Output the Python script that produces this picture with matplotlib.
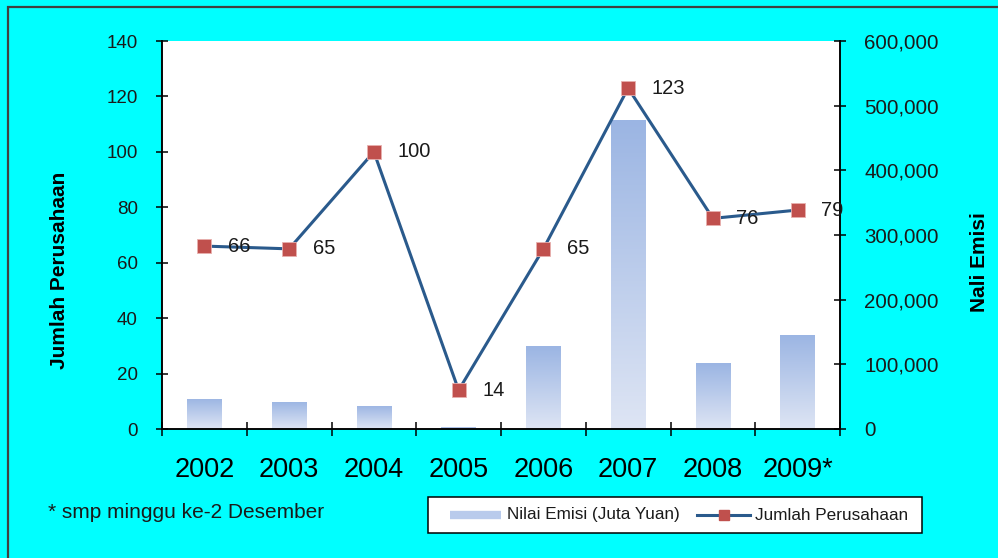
import matplotlib
matplotlib.use("Agg")
import matplotlib.pyplot as plt
import numpy as np
from matplotlib.ticker import FuncFormatter, FixedLocator
from matplotlib.lines import Line2D
from matplotlib.colors import LinearSegmentedColormap
from matplotlib.patches import Rectangle

plt.rcParams['font.family'] = ['Liberation Sans', 'DejaVu Sans']

# Data
years = ["2002", "2003", "2004", "2005", "2006", "2007", "2008", "2009*"]
nilai_emisi = [46400, 42200, 36000, 2600, 127800, 477600, 102000, 145700]
jumlah_perusahaan = [66, 65, 100, 14, 65, 123, 76, 79]

BG = "#00FFFF"
LINE_C = "#2A5A8C"
MARK_C = "#C0504D"
BAR_TOP = "#9BB5E3"
BAR_BOT = "#DEE5F4"
TXT = "#1a1a1a"

W, H = 998, 558
fig = plt.figure(figsize=(W / 100, H / 100), dpi=100, facecolor=BG)


def fx(px):
    return px / W


def fy(py):
    return 1 - py / H


# thin frame around the chart area
fig.patches.append(Rectangle((fx(8), -0.1), 1.2, fy(7) + 0.1,
                             transform=fig.transFigure, fill=False,
                             edgecolor="#404040", linewidth=1.6, zorder=0))

left, right, top, bottom = 162, 840, 41, 429
ax2 = fig.add_axes([fx(left), fy(bottom), (right - left) / W, (bottom - top) / H])
ax = ax2.twinx()
ax.yaxis.tick_left()
ax.yaxis.set_label_position("left")
ax2.yaxis.tick_right()
ax2.yaxis.set_label_position("right")

ax2.set_facecolor("white")
ax.set_zorder(ax2.get_zorder() + 1)
ax.patch.set_visible(False)

x = np.arange(len(years))

# Bars with vertical gradient fill
bars = ax2.bar(x, nilai_emisi, width=0.41, facecolor="none", edgecolor="none", zorder=2)
cmap = LinearSegmentedColormap.from_list("grad", [BAR_BOT, BAR_TOP])
grad = np.linspace(0, 1, 256).reshape(-1, 1)
for b in bars:
    x0, w, h = b.get_x(), b.get_width(), b.get_height()
    im = ax2.imshow(grad, cmap=cmap, origin="lower", aspect="auto",
                    extent=[x0, x0 + w, 0, h], zorder=2, interpolation="bilinear")
    im.set_clip_path(b)

# Line with square markers
ax.plot(x, jumlah_perusahaan, color=LINE_C, linewidth=2.2, marker="s",
        markersize=10, markerfacecolor=MARK_C, markeredgecolor="#E8B0AE",
        markeredgewidth=0.6, zorder=3)
for xi, v in zip(x, jumlah_perusahaan):
    ax.annotate(f"{v}", (xi, v), xytext=(17, 0), textcoords="offset points",
                ha="left", va="center", fontsize=14.5, color=TXT, zorder=4)

ax.set_xlim(-0.5, len(years) - 0.5)
ax2.set_xlim(-0.5, len(years) - 0.5)
ax.set_ylim(0, 140)
ax2.set_ylim(0, 600000)

ax.set_yticks(np.arange(0, 141, 20))
ax2.set_yticks(np.arange(0, 600001, 100000))
ax2.yaxis.set_major_formatter(FuncFormatter(lambda v, p: f"{int(v):,}"))

for a in (ax, ax2):
    a.spines["top"].set_visible(False)
    for s in ("left", "right", "bottom"):
        a.spines[s].set_linewidth(1.1)
        a.spines[s].set_color("black")

ax.tick_params(axis="y", direction="inout", length=9, width=1.1, pad=13,
               labelsize=13.5, labelcolor=TXT)
ax2.tick_params(axis="y", direction="inout", length=9, width=1.1, pad=13,
                labelsize=14.8, labelcolor=TXT)

# category labels at centres, tick marks at category boundaries
ax2.set_xticks(x)
ax2.set_xticklabels(years)
ax2.xaxis.set_minor_locator(FixedLocator(np.arange(-0.5, len(years), 1.0)))
ax2.tick_params(axis="x", which="major", length=0, pad=20, labelsize=19.5)
ax2.tick_params(axis="x", which="minor", direction="inout", length=10, width=1.1)
ax.tick_params(axis="x", which="both", length=0, labelbottom=False)

ax.set_ylabel("Jumlah Perusahaan", fontsize=15, fontweight="bold")
ax.yaxis.set_label_coords(-0.137, 0.41)
ax2.set_ylabel("Nali Emisi", fontsize=15, fontweight="bold", rotation=90)
ax2.yaxis.set_label_coords(1.192, 0.43)

fig.text(fx(48), fy(513), "* smp minggu ke-2 Desember", fontsize=15,
         ha="left", va="center", color=TXT)

# Legend box
fig.patches.append(Rectangle((fx(428), fy(533)), (922 - 428) / W, 36 / H,
                             transform=fig.transFigure, facecolor="white",
                             edgecolor="black", linewidth=1.1, zorder=5))
ly = fy(515)
fig.add_artist(Line2D([fx(450), fx(501)], [ly, ly], transform=fig.transFigure,
                      color="#B9CBEC", linewidth=6, solid_capstyle="butt", zorder=6))
fig.add_artist(Line2D([fx(697), fx(750)], [ly, ly], transform=fig.transFigure,
                      color=LINE_C, linewidth=2.2, zorder=6))
fig.add_artist(Line2D([fx(723.5)], [ly], transform=fig.transFigure, marker="s",
                      markersize=7, markerfacecolor=MARK_C, markeredgecolor=MARK_C,
                      linestyle="none", zorder=7))
fig.text(fx(507), ly, "Nilai Emisi (Juta Yuan)", fontsize=12.3, ha="left",
         va="center", color=TXT, zorder=7)
fig.text(fx(755), ly, "Jumlah Perusahaan", fontsize=12.3, ha="left",
         va="center", color=TXT, zorder=7)

fig.savefig("out.png", dpi=100, facecolor=BG)
